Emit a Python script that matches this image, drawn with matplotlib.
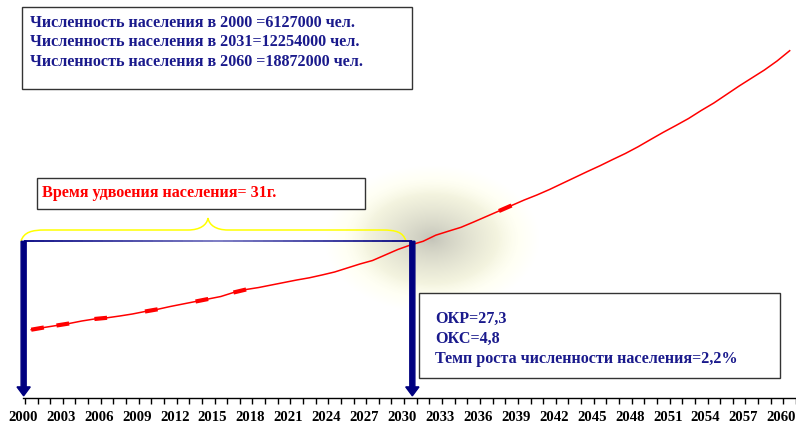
import numpy as np
import matplotlib
matplotlib.use('Agg')
from matplotlib import pyplot as plt
from matplotlib.patches import Rectangle, PathPatch
from matplotlib.path import Path
from matplotlib.collections import LineCollection

# Численность населения, тыс. чел.
years = list(range(2000, 2061))
population = [
    6127, 6279, 6418, 6557, 6730, 6869, 6952, 7076, 7215, 7388,
    7541, 7735, 7908, 8081, 8255, 8428, 8705, 8913, 9051, 9225,
    9398, 9571, 9724, 9918, 10126, 10403, 10680, 10923, 11304, 11685,
    11997, 12254, 12676, 12953, 13223, 13591, 13972, 14353, 14734, 15115,
    15462, 15843, 16259, 16674, 17090, 17492, 17922, 18338, 18802, 19308,
    19807, 20278, 20763, 21318, 21837, 22426, 23015, 23570, 24124, 24748,
    25462,
]
thick_years = [2000, 2002, 2005, 2009, 2013, 2016, 2037]
tick_years = years[::3]

double_level = 12254
y_bottom, y_top = 1394, 29045

info_lines = [
    'Численность населения в 2000 =6127000 чел.',
    'Численность населения в 2031=12254000 чел.',
    'Численность населения в 2060 =18872000 чел.',
]
doubling_text = 'Время удвоения населения= 31г.'
rate_lines = ['ОКР=27,3', 'ОКС=4,8', 'Темп роста численности населения=2,2%']

NAVY = '#000080'
TEXT_NAVY = '#1a1a8c'
RED = '#ff0000'

plt.rcParams['font.family'] = ['Liberation Serif', 'DejaVu Serif']
plt.rcParams['font.weight'] = 'bold'

W, H = 796, 427
fig = plt.figure(figsize=(W / 100, H / 100), dpi=100)

# overlay in pixel coordinates for the decorations
over = fig.add_axes([0, 0, 1, 1], zorder=0)
over.axis('off')

ax = fig.add_axes([23 / W, 28 / H, 773 / W, 399 / H], zorder=1)
ax.patch.set_alpha(0)

# soft glow around the doubling point
gx = np.linspace(320, 545, 225)
gy = np.linspace(160, 320, 160)
X, Y = np.meshgrid(gx, gy)
r = np.sqrt(((X - 432) / 108) ** 2 + ((Y - 240) / 74) ** 2)
t = np.clip(r / 0.8, 0, 1) ** 0.75
grey = np.array([0.76, 0.76, 0.72])
cream = np.array([1.0, 1.0, 0.91])
rgb = grey * (1 - t[..., None]) + cream * t[..., None]
alpha = np.clip((1 - r) / 0.4, 0, 1)
over.imshow(np.dstack([rgb, alpha]), extent=(320, 545, 320, 160),
            interpolation='bilinear', aspect='auto', zorder=0)
over.set_xlim(0, W)
over.set_ylim(H, 0)

# yellow brace
verts = [(21, 242), (24, 233), (32, 231), (45, 231), (188, 231),
         (200, 231), (207, 226), (208, 219),
         (209, 226), (216, 231), (228, 231), (382, 231),
         (396, 231), (403, 233), (406, 242)]
codes = [Path.MOVETO, Path.CURVE4, Path.CURVE4, Path.CURVE4, Path.LINETO,
         Path.CURVE4, Path.CURVE4, Path.CURVE4,
         Path.CURVE4, Path.CURVE4, Path.CURVE4, Path.LINETO,
         Path.CURVE4, Path.CURVE4, Path.CURVE4]
over.add_patch(PathPatch(Path(verts, codes), fill=False, ec='#ffff00', lw=1.1, zorder=2))

# text boxes
over.add_patch(Rectangle((22, 7.5), 390, 82.5, fc='white', ec='#333333', lw=1, zorder=3))
for i, line in enumerate(info_lines):
    over.text(30, 22.7 + 19.8 * i, line, color=TEXT_NAVY, fontsize=11.6,
              fontweight='bold', va='center', ha='left', zorder=4)

over.add_patch(Rectangle((37, 178.5), 328, 31.5, fc='white', ec='#333333', lw=1, zorder=3))
over.text(42, 193.5, doubling_text, color=RED, fontsize=11.6,
          fontweight='bold', va='center', ha='left', zorder=4)

over.add_patch(Rectangle((419, 293.5), 361, 85, fc='white', ec='#333333', lw=1, zorder=3))
for i, line in enumerate(rate_lines):
    over.text(435, 319.3 + 20 * i, line, color=TEXT_NAVY, fontsize=11.6,
              fontweight='bold', va='center', ha='left', zorder=4)

# population curve
ax.plot(years, population, color=RED, lw=1.1, zorder=4)
for y in thick_years:
    i = years.index(y)
    ax.plot(years[i:i + 2], population[i:i + 2], color=RED, lw=3, zorder=4,
            solid_capstyle='butt')

# doubling line and arrows
x_left, x_right = years[0] - 0.6, 2031 - 0.85
xs = np.linspace(x_left, x_right, 40)
segs = [[(xs[k], double_level), (xs[k + 1], double_level)] for k in range(len(xs) - 1)]
mid = np.abs(np.linspace(-1, 1, len(segs)))
cols = [(0.45 * (1 - m), 0.45 * (1 - m), 0.5 + 0.25 * (1 - m)) for m in mid]
ax.add_collection(LineCollection(segs, colors=cols, lw=1.3, zorder=3, clip_on=False))

for x in (x_left, x_right):
    ax.arrow(x, double_level, 0, (y_bottom + 150) - double_level, width=0.4,
             head_width=1.05, head_length=620, length_includes_head=True,
             color=NAVY, clip_on=False, zorder=5)

ax.set_xlim(1999.5, 2060.5)
ax.set_ylim(y_bottom, y_top)
for side in ('left', 'right', 'top'):
    ax.spines[side].set_visible(False)
ax.spines['bottom'].set_color('black')
ax.spines['bottom'].set_linewidth(1)
ax.set_yticks([])
ax.set_xticks([y - 0.65 for y in tick_years])
ax.set_xticklabels([str(y) for y in tick_years], fontsize=10.6, fontweight='bold')
ax.tick_params(axis='x', which='major', length=0, pad=9)
ax.set_xticks([y - 0.5 for y in years] + [years[-1] + 0.5], minor=True)
ax.tick_params(axis='x', which='minor', length=4, width=1, direction='out', color='black')

fig.savefig('out.png', dpi=100)
